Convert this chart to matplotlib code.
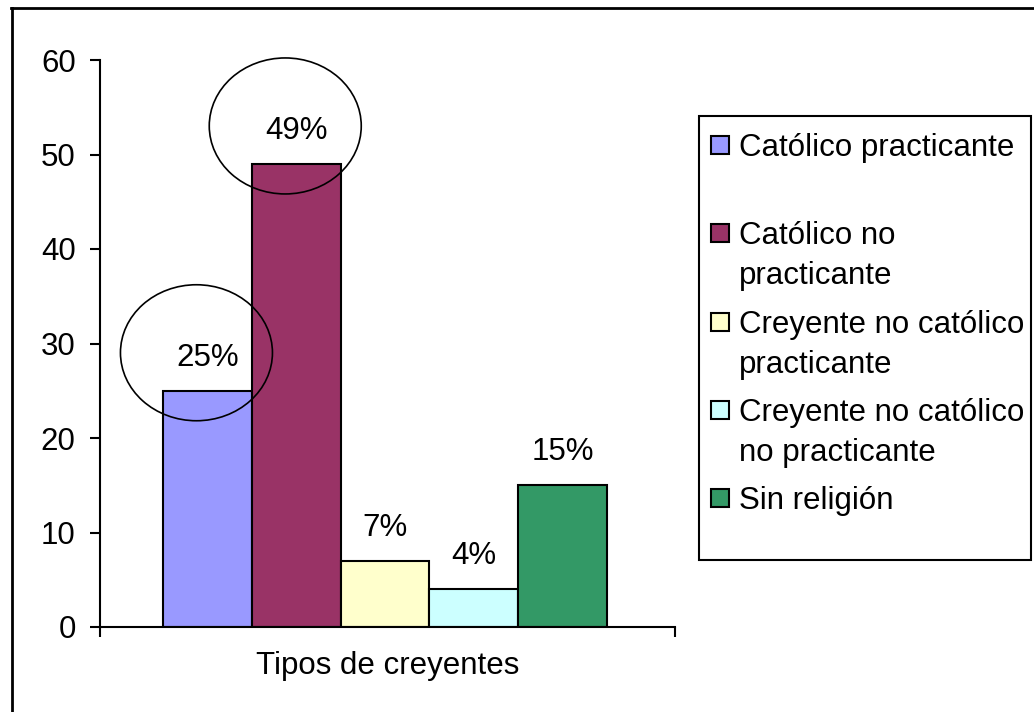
import matplotlib
matplotlib.use("Agg")
import matplotlib.pyplot as plt
from matplotlib.patches import Ellipse, Rectangle
from matplotlib.lines import Line2D
import matplotlib.transforms as mtransforms

plt.rcParams['font.family'] = ['Liberation Sans', 'DejaVu Sans']

# ---- data ----
categories = ["Católico practicante",
              "Católico no\npracticante",
              "Creyente no católico\npracticante",
              "Creyente no católico\nno practicante",
              "Sin religión"]
values = [25, 49, 7, 4, 15]
value_labels = ["25%", "49%", "7%", "4%", "15%"]
colors = ["#9999FF", "#993366", "#FFFFCC", "#CCFFFF", "#339966"]
circled = [0, 1]
yticks = [0, 10, 20, 30, 40, 50, 60]
xlabel = "Tipos de creyentes"

W, H = 1034, 712
FS = 22.5
fig = plt.figure(figsize=(W / 100, H / 100), dpi=100)

def fx(px):
    return px / W

def fy(py):
    return 1 - py / H

# outer frame (left & top visible)
fig.add_artist(Line2D([fx(12), fx(12)], [fy(8), fy(720)], color='black', lw=2.0,
                      transform=fig.transFigure))
fig.add_artist(Line2D([fx(11), fx(1040)], [fy(8), fy(8)], color='black', lw=2.0,
                      transform=fig.transFigure))

ax = fig.add_axes([fx(100), fy(627), 575 / W, 567 / H])
x = list(range(len(values)))
ax.bar(x, values, width=1.0, color=colors, edgecolor='black', linewidth=1.5, zorder=2)
xl = (-1.21, len(values) - 1 + 1.265)
ax.set_xlim(*xl)
ax.set_ylim(0, 60)
ax.set_yticks(yticks)
ax.set_xticks(list(xl))
ax.set_xticklabels([])
for s in ['top', 'right']:
    ax.spines[s].set_visible(False)
for s in ['left', 'bottom']:
    ax.spines[s].set_linewidth(1.5)
ax.tick_params(axis='y', direction='out', length=7.5, width=1.5, pad=10, labelsize=FS)
ax.tick_params(axis='x', direction='out', length=7, width=1.5)
ax.set_xlabel(xlabel, fontsize=FS, labelpad=7)

for xi, v, lbl in zip(x, values, value_labels):
    ax.annotate(lbl, (xi, v), xytext=(0, 18), textcoords='offset points',
                ha='center', va='baseline', fontsize=FS, zorder=3)

for i in circled:
    tr = fig.dpi_scale_trans + mtransforms.ScaledTranslation(x[i], values[i], ax.transData)
    e = Ellipse((-0.11, 0.38), 1.52, 1.36, transform=tr, fill=False,
                edgecolor='black', lw=1.2, clip_on=False, zorder=4)
    ax.add_artist(e)

# legend box
fig.add_artist(Rectangle((fx(699), fy(560)), 332 / W, 444 / H, transform=fig.transFigure,
                         facecolor='white', edgecolor='black', lw=1.5))
slot0, slot_step, line_step = 145, 88.3, 40
for k, (cat, col) in enumerate(zip(categories, colors)):
    cy = slot0 + k * slot_step
    fig.add_artist(Rectangle((fx(711), fy(cy + 9)), 18 / W, 18 / H, transform=fig.transFigure,
                             facecolor=col, edgecolor='black', lw=1.5))
    for j, line in enumerate(cat.split("\n")):
        fig.text(fx(739), fy(cy + 11 + j * line_step), line, fontsize=FS,
                 ha='left', va='baseline')

fig.savefig('out.png', dpi=100)
